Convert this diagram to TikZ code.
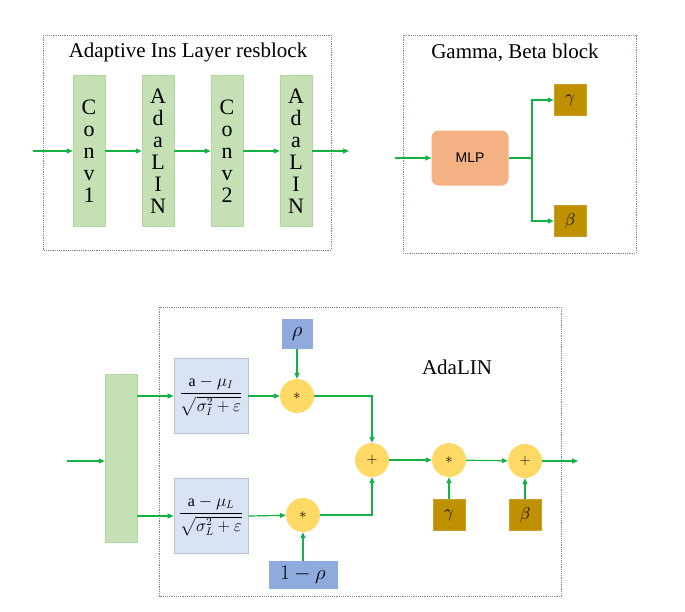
\documentclass[tikz,border=0pt]{standalone}
\usepackage{amsmath, amssymb}
\usepackage{fontspec}
\setmainfont{Liberation Serif}
\newfontfamily\mlpfont{Liberation Sans}
\usetikzlibrary{arrows.meta, positioning, calc}

\definecolor{flowgreen}{RGB}{20,178,70}
\definecolor{barfill}{RGB}{197,224,180}
\definecolor{barline}{RGB}{180,214,160}
\definecolor{paramgold}{RGB}{191,144,0}
\definecolor{mlpfill}{RGB}{244,177,131}
\definecolor{normfill}{RGB}{218,227,243}
\definecolor{normline}{RGB}{185,195,215}
\definecolor{rhofill}{RGB}{143,170,220}
\definecolor{opfill}{RGB}{255,217,102}
\definecolor{dashblue}{RGB}{120,138,170}

\begin{document}
\begin{tikzpicture}[x=1pt,y=-1pt,
    frame/.style={draw=dashblue, dash pattern=on 1.2pt off 1pt, line width=0.9pt},
    bar/.style={fill=barfill, draw=barline, line width=0.5pt, minimum width=32pt, minimum height=151pt, inner sep=0pt, align=center, font=\fontsize{22}{22}\selectfont},
    param/.style={fill=paramgold, draw=paramgold!85!white, minimum width=32pt, minimum height=31pt, inner sep=0pt, font=\fontsize{19}{19}\selectfont},
    rhobox/.style={fill=rhofill, minimum height=30pt, inner sep=0pt, font=\fontsize{20}{20}\selectfont},
    norm/.style={fill=normfill, draw=normline, line width=0.6pt, minimum width=74pt, minimum height=75pt, inner sep=0pt, font=\fontsize{16}{18}\selectfont},
    op/.style={circle, fill=opfill, minimum size=34pt, inner sep=0pt, font=\fontsize{15}{15}\selectfont},
    flow/.style={draw=flowgreen, line width=1.2pt, -{Triangle[length=6pt,width=5pt]}},
    title/.style={font=\fontsize{21}{23}\selectfont}
  ]
  \useasboundingbox (0,0) rectangle (685,611);

  % Adaptive Ins Layer resblock
  \draw[frame] (43,35) rectangle (331,250);
  \node[title] (restitle) at (188,52) {Adaptive Ins Layer resblock};
  \node[bar] (conv1) at (89,151) {C\\o\\n\\v\\1};
  \node[bar] (ada1) at (158,151) {A\\d\\a\\L\\I\\N};
  \node[bar] (conv2) at (227,151) {C\\o\\n\\v\\2};
  \node[bar] (ada2) at (296,151) {A\\d\\a\\L\\I\\N};
  \coordinate (resin) at (33,151);
  \coordinate (resout) at (349,151);
  \draw[flow] (resin) -- (conv1);
  \draw[flow] (conv1) -- (ada1);
  \draw[flow] (ada1) -- (conv2);
  \draw[flow] (conv2) -- (ada2);
  \draw[flow] (ada2) -- (resout);

  % Gamma, Beta block
  \draw[frame] (403,35) rectangle (636,253);
  \node[title] (gbtitle) at (515,53) {Gamma, Beta block};
  \node[fill=mlpfill, rounded corners=7pt, minimum width=77pt, minimum height=55pt, font=\mlpfont\fontsize{14}{14}\selectfont] (mlp) at (470,158) {MLP};
  \node[param] (gam) at (570,100) {$\gamma$};
  \node[param] (bet) at (570,221) {$\beta$};
  \coordinate (mlpin) at (395,158);
  \coordinate (split) at (532,158);
  \draw[flow] (mlpin) -- (mlp);
  \draw[draw=flowgreen, line width=1.2pt] (mlp) -- (split);
  \draw[flow] (split) |- (gam);
  \draw[flow] (split) |- (bet);

  % AdaLIN
  \draw[frame] (159,307) rectangle (561,596);
  \node[title] (adatitle) at (457,367) {AdaLIN};
  \node[bar, minimum height=168pt] (split2) at (121,458) {};
  \node[norm] (fracI) at (211,396) {$\dfrac{\mathrm{a}-\mu_I}{\sqrt{\sigma_I^2+\varepsilon}}$};
  \node[norm] (fracL) at (211,516) {$\dfrac{\mathrm{a}-\mu_L}{\sqrt{\sigma_L^2+\varepsilon}}$};
  \node[op] (mulI) at (297,396) {$\ast$};
  \node[op] (mulL) at (303,515) {$\ast$};
  \node[rhobox, minimum width=31pt] (rho) at (297,334) {$\rho$};
  \node[rhobox, minimum width=69pt, minimum height=28pt] (onerho) at (303,575) {$1-\rho$};
  \node[op] (add) at (372,460) {$+$};
  \node[op] (mulG) at (449,460) {$\ast$};
  \node[op] (addB) at (525,461) {$+$};
  \node[param] (gam2) at (449,515) {$\gamma$};
  \node[param] (bet2) at (525,515) {$\beta$};
  \coordinate (adain) at (67,461);
  \coordinate (adaout) at (578,461);

  \draw[flow] (adain) -- (adain -| split2.west);
  \draw[flow] (split2.east |- fracI) -- (fracI);
  \draw[flow] (split2.east |- fracL) -- (fracL);
  \draw[flow] (fracI) -- (mulI);
  \draw[flow] (fracL.east) -- (mulL);
  \draw[flow] (rho) -- (mulI);
  \draw[flow] (onerho) -- (mulL);
  \draw[flow] (mulI) -| (add);
  \draw[flow] (mulL) -| (add);
  \draw[flow] (add) -- (mulG);
  \draw[flow] (gam2) -- (mulG);
  \draw[flow] (mulG) -- (addB);
  \draw[flow] (bet2) -- (addB);
  \draw[flow] (addB) -- (adaout);
\end{tikzpicture}
\end{document}
